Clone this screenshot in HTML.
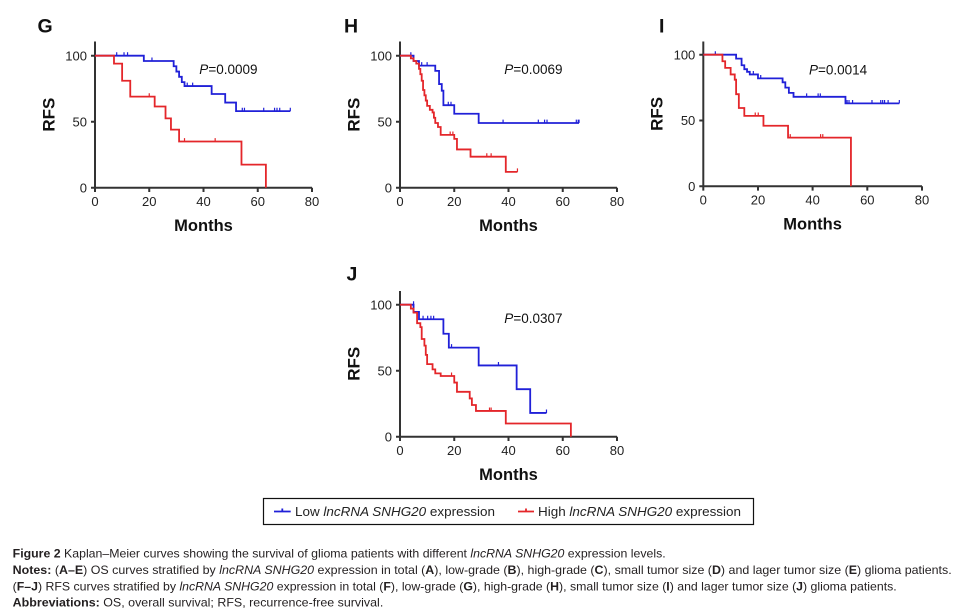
<!DOCTYPE html>
<html><head><meta charset="utf-8"><style>
html,body{margin:0;padding:0;background:#fff;}
svg{display:block;}
.tk{font-family:"Liberation Sans",Arial,sans-serif;font-size:13px;fill:#222;}
.ax{stroke:#333;stroke-width:2;fill:none;}
.bl{font-family:"Liberation Sans",Arial,sans-serif;font-weight:bold;fill:#111;}
.cb{stroke:#2020d8;stroke-width:1.8;fill:none;vector-effect:non-scaling-stroke;}
.cr{stroke:#e4262a;stroke-width:1.8;fill:none;vector-effect:non-scaling-stroke;}
.tb{stroke:#2020d8;stroke-width:1.2;fill:none;vector-effect:non-scaling-stroke;}
.tr{stroke:#e4262a;stroke-width:1.2;fill:none;vector-effect:non-scaling-stroke;}
.pv{font-family:"Liberation Sans",Arial,sans-serif;font-size:13.5px;fill:#111;}
.cap{font-family:"Liberation Sans",Arial,sans-serif;font-size:12px;fill:#231f20;}
</style></head><body>
<svg width="960" height="613" viewBox="0 0 960 613" xmlns="http://www.w3.org/2000/svg">

<!-- ============ Panel G ============ -->
<text class="bl" x="37.5" y="32.3" font-size="19.5">G</text>
<path class="ax" d="M95 41.5 V187.7 H312 M91 187.7 H95 M91 121.7 H95 M91 55.7 H95 M95 187.7 V192 M149.25 187.7 V192 M203.5 187.7 V192 M257.75 187.7 V192 M312 187.7 V192"/>
<text class="tk" x="87" y="192.4" text-anchor="end">0</text>
<text class="tk" x="87" y="126.4" text-anchor="end">50</text>
<text class="tk" x="87" y="60.4" text-anchor="end">100</text>
<text class="tk" x="95" y="206" text-anchor="middle">0</text>
<text class="tk" x="149.25" y="206" text-anchor="middle">20</text>
<text class="tk" x="203.5" y="206" text-anchor="middle">40</text>
<text class="tk" x="257.75" y="206" text-anchor="middle">60</text>
<text class="tk" x="312" y="206" text-anchor="middle">80</text>
<text class="bl" font-size="17" transform="translate(54.3,114.6) rotate(-90)" text-anchor="middle">RFS</text>
<text class="bl" font-size="16.5" x="203.5" y="230.8" text-anchor="middle">Months</text>
<text class="pv" x="199.3" y="74"><tspan font-style="italic">P</tspan>=0.0009</text>
<g transform="translate(95,187.7) scale(2.7125,-1.32)">
<path class="cb" d="M0 100 H18 V96 H29 V92 H30 V88 H31 V84 H32 V80 H33 V77 H43 V71 H48 V64.5 H52 V58 H72"/>
<path class="tb" d="M8 100 v2.6 M10.7 100 v2.6 M12 100 v2.6 M21 96 v2.6 M34 77 v2.6 M36 77 v2.6 M54.3 58 v2.6 M55.1 58 v2.6 M62.2 58 v2.6 M66.2 58 v2.6 M67.1 58 v2.6 M68.1 58 v2.6 M72 58 v2.6"/>
<path class="cr" d="M0 100 H7 V94 H10 V81 H13 V69 H22 V61.5 H26 V52.5 H28 V44 H31 V35 H54 V17.5 H63 V0"/>
<path class="tr" d="M20 69 v2.6 M33 35 v2.6 M44.3 35 v2.6"/>
</g>

<!-- ============ Panel H ============ -->
<text class="bl" x="344" y="32.3" font-size="19.5">H</text>
<path class="ax" d="M400 41.5 V187.7 H617 M396 187.7 H400 M396 121.7 H400 M396 55.7 H400 M400 187.7 V192 M454.25 187.7 V192 M508.5 187.7 V192 M562.75 187.7 V192 M617 187.7 V192"/>
<text class="tk" x="392" y="192.4" text-anchor="end">0</text>
<text class="tk" x="392" y="126.4" text-anchor="end">50</text>
<text class="tk" x="392" y="60.4" text-anchor="end">100</text>
<text class="tk" x="400" y="206" text-anchor="middle">0</text>
<text class="tk" x="454.25" y="206" text-anchor="middle">20</text>
<text class="tk" x="508.5" y="206" text-anchor="middle">40</text>
<text class="tk" x="562.75" y="206" text-anchor="middle">60</text>
<text class="tk" x="617" y="206" text-anchor="middle">80</text>
<text class="bl" font-size="17" transform="translate(359.3,114.6) rotate(-90)" text-anchor="middle">RFS</text>
<text class="bl" font-size="16.5" x="508.5" y="230.8" text-anchor="middle">Months</text>
<text class="pv" x="504.3" y="74"><tspan font-style="italic">P</tspan>=0.0069</text>
<g transform="translate(400,187.7) scale(2.7125,-1.32)">
<path class="cb" d="M0 100 H5 V96 H7 V92.5 H13 V88.5 H14.4 V78.5 H15.4 V73.5 H16 V62.5 H20 V56 H29 V49 H66"/>
<path class="tb" d="M4 100 v2.6 M8 92.5 v2.6 M10 92.5 v2.6 M17.8 62.5 v2.6 M18.8 62.5 v2.6 M38 49 v2.6 M51 49 v2.6 M53.3 49 v2.6 M54.2 49 v2.6 M65 49 v2.6 M65.7 49 v2.6 M66 49 v2.6"/>
<path class="cr" d="M0 100 H4 V98 H5 V96 H6 V94 H7 V90 H7.5 V86 H8 V81 H8.5 V74 H9 V70 H9.5 V66 H10 V62 H11 V59 H12 V57 H12.5 V53 H13 V49 H14 V46 H15 V40 H20 V37 H21 V29 H26 V23.5 H39 V12 H43.3"/>
<path class="tr" d="M18.5 40 v2.6 M19.5 40 v2.6 M32 23.5 v2.6 M33.6 23.5 v2.6 M43.3 12 v2.6"/>
</g>

<!-- ============ Panel I ============ -->
<text class="bl" x="659" y="32.3" font-size="19.5">I</text>
<path class="ax" d="M703.3 41.5 V186.3 H922 M699.3 186.3 H703.3 M699.3 120.5 H703.3 M699.3 54.7 H703.3 M703.3 186.3 V190.6 M758 186.3 V190.6 M812.6 186.3 V190.6 M867.3 186.3 V190.6 M922 186.3 V190.6"/>
<text class="tk" x="695.3" y="191" text-anchor="end">0</text>
<text class="tk" x="695.3" y="125.2" text-anchor="end">50</text>
<text class="tk" x="695.3" y="59.4" text-anchor="end">100</text>
<text class="tk" x="703.3" y="204.6" text-anchor="middle">0</text>
<text class="tk" x="758" y="204.6" text-anchor="middle">20</text>
<text class="tk" x="812.6" y="204.6" text-anchor="middle">40</text>
<text class="tk" x="867.3" y="204.6" text-anchor="middle">60</text>
<text class="tk" x="922" y="204.6" text-anchor="middle">80</text>
<text class="bl" font-size="17" transform="translate(662.6,113.9) rotate(-90)" text-anchor="middle">RFS</text>
<text class="bl" font-size="16.5" x="812.6" y="229.5" text-anchor="middle">Months</text>
<text class="pv" x="809" y="74.7"><tspan font-style="italic">P</tspan>=0.0014</text>
<g transform="translate(703.3,186.3) scale(2.734,-1.316)">
<path class="cb" d="M0 100 H12 V97 H14 V92 H15 V89 H16 V87 H17 V85 H20 V82 H29 V79 H30 V75 H31.3 V71 H33 V68 H52 V63 H71.7"/>
<path class="tb" d="M4.4 100 v2.6 M18.3 85 v2.6 M21 82 v2.6 M37.8 68 v2.6 M42 68 v2.6 M42.8 68 v2.6 M52.6 63 v2.6 M53.3 63 v2.6 M54.6 63 v2.6 M61.7 63 v2.6 M64.9 63 v2.6 M65.6 63 v2.6 M66.3 63 v2.6 M67.6 63 v2.6 M71.7 63 v2.6"/>
<path class="cr" d="M0 100 H7 V95 H8 V90 H10 V85 H11.5 V81 H12 V70 H13 V59.5 H15 V53.5 H22 V46 H31 V37 H54 V0"/>
<path class="tr" d="M19 53.5 v2.6 M20.1 53.5 v2.6 M31.8 37 v2.6 M42.9 37 v2.6 M43.7 37 v2.6"/>
</g>

<!-- ============ Panel J ============ -->
<text class="bl" x="346.5" y="280.7" font-size="19.5">J</text>
<path class="ax" d="M400 291 V436.7 H617 M396 436.7 H400 M396 370.7 H400 M396 304.7 H400 M400 436.7 V441 M454.25 436.7 V441 M508.5 436.7 V441 M562.75 436.7 V441 M617 436.7 V441"/>
<text class="tk" x="392" y="441.4" text-anchor="end">0</text>
<text class="tk" x="392" y="375.4" text-anchor="end">50</text>
<text class="tk" x="392" y="309.4" text-anchor="end">100</text>
<text class="tk" x="400" y="455" text-anchor="middle">0</text>
<text class="tk" x="454.25" y="455" text-anchor="middle">20</text>
<text class="tk" x="508.5" y="455" text-anchor="middle">40</text>
<text class="tk" x="562.75" y="455" text-anchor="middle">60</text>
<text class="tk" x="617" y="455" text-anchor="middle">80</text>
<text class="bl" font-size="17" transform="translate(359.3,363.8) rotate(-90)" text-anchor="middle">RFS</text>
<text class="bl" font-size="16.5" x="508.5" y="479.8" text-anchor="middle">Months</text>
<text class="pv" x="504.3" y="323"><tspan font-style="italic">P</tspan>=0.0307</text>
<g transform="translate(400,436.7) scale(2.7125,-1.32)">
<path class="cb" d="M0 100 H5 V94.5 H7 V89 H16 V78 H18 V67.5 H29 V54 H43 V36 H48 V18 H54"/>
<path class="tb" d="M5 100 v2.6 M8.5 89 v2.6 M10.2 89 v2.6 M11.4 89 v2.6 M12.4 89 v2.6 M19 67.5 v2.6 M36.3 54 v2.6 M54 18 v2.6"/>
<path class="cr" d="M0 100 H4 V97 H5 V94 H6.3 V86 H7.5 V83 H8 V74 H9 V69 H9.5 V62 H10 V55 H12 V51 H13 V48 H15 V46 H20 V41 H21 V34 H25.7 V29 H26.5 V24 H28 V19.5 H39 V10 H63 V0"/>
<path class="tr" d="M19 46 v2.6 M33 19.5 v2.6 M33.6 19.5 v2.6"/>
</g>

<!-- ============ Legend ============ -->
<rect x="263.5" y="498.5" width="490" height="26" fill="none" stroke="#111" stroke-width="1.2"/>
<path d="M274 511.5 H290.7 M282.3 511.5 V508.5" stroke="#2020d8" stroke-width="1.8" fill="none"/>
<text class="tk" x="295" y="516" font-size="13.5" fill="#111" textLength="200" lengthAdjust="spacingAndGlyphs">Low <tspan font-style="italic">lncRNA SNHG20</tspan> expression</text>
<path d="M518 511.5 H534 M526 511.5 V508.5" stroke="#e4262a" stroke-width="1.8" fill="none"/>
<text class="tk" x="538" y="516" font-size="13.5" fill="#111" textLength="203" lengthAdjust="spacingAndGlyphs">High <tspan font-style="italic">lncRNA SNHG20</tspan> expression</text>

<!-- ============ Caption ============ -->
<text class="cap" x="12.7" y="557.3" textLength="653" lengthAdjust="spacingAndGlyphs"><tspan font-weight="bold">Figure 2</tspan> Kaplan–Meier curves showing the survival of glioma patients with different <tspan font-style="italic">lncRNA SNHG20</tspan> expression levels.</text>
<text class="cap" x="12.7" y="574" textLength="939" lengthAdjust="spacingAndGlyphs"><tspan font-weight="bold">Notes:</tspan> (<tspan font-weight="bold">A–E</tspan>) OS curves stratified by <tspan font-style="italic">lncRNA SNHG20</tspan> expression in total (<tspan font-weight="bold">A</tspan>), low-grade (<tspan font-weight="bold">B</tspan>), high-grade (<tspan font-weight="bold">C</tspan>), small tumor size (<tspan font-weight="bold">D</tspan>) and lager tumor size (<tspan font-weight="bold">E</tspan>) glioma patients.</text>
<text class="cap" x="12.7" y="590.3" textLength="884" lengthAdjust="spacingAndGlyphs">(<tspan font-weight="bold">F–J</tspan>) RFS curves stratified by <tspan font-style="italic">lncRNA SNHG20</tspan> expression in total (<tspan font-weight="bold">F</tspan>), low-grade (<tspan font-weight="bold">G</tspan>), high-grade (<tspan font-weight="bold">H</tspan>), small tumor size (<tspan font-weight="bold">I</tspan>) and lager tumor size (<tspan font-weight="bold">J</tspan>) glioma patients.</text>
<text class="cap" x="12.7" y="606.7" textLength="370.6" lengthAdjust="spacingAndGlyphs"><tspan font-weight="bold">Abbreviations:</tspan> OS, overall survival; RFS, recurrence-free survival.</text>

</svg>
</body></html>
